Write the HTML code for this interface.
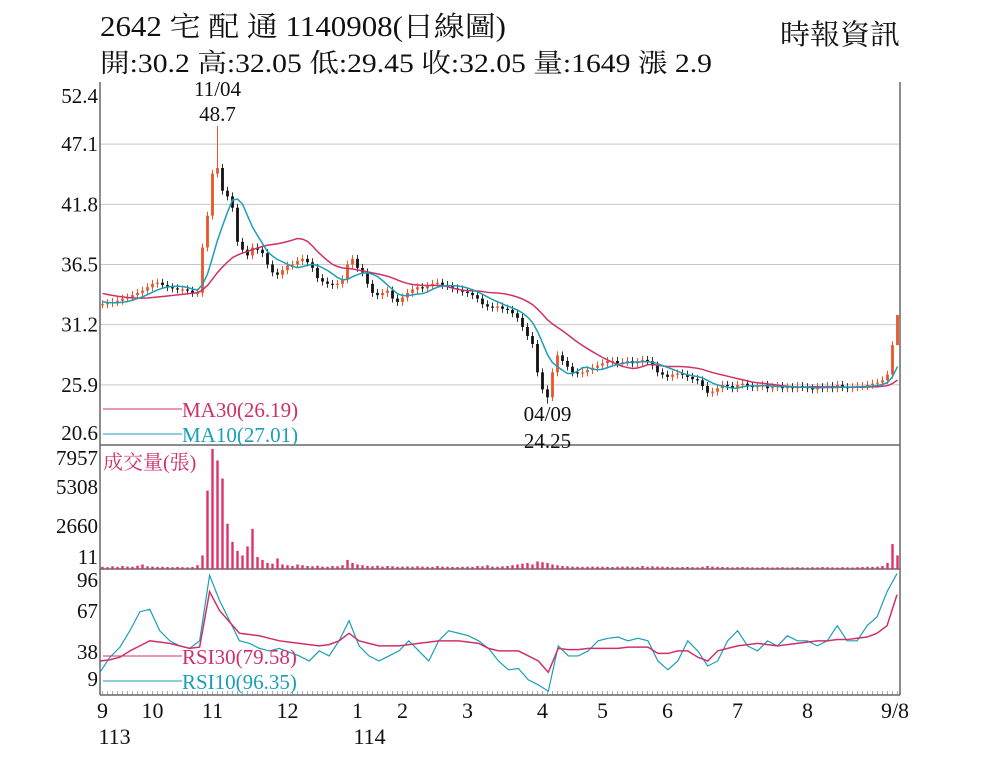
<!DOCTYPE html>
<html><head><meta charset="utf-8">
<style>
html,body{margin:0;padding:0;background:#fff;}
svg{display:block;font-family:"Liberation Serif","Noto Serif CJK SC",serif;}
</style></head>
<body>
<svg id="chart" width="1000" height="771" viewBox="0 0 1000 771" xmlns="http://www.w3.org/2000/svg">
<rect x="0" y="0" width="1000" height="771" fill="#fff"/>
<text x="100" y="36" font-size="28" fill="#111" textLength="406" lengthAdjust="spacingAndGlyphs">2642 宅 配 通 1140908(日線圖)</text>
<text x="100" y="72" font-size="26" fill="#111" textLength="612" lengthAdjust="spacingAndGlyphs">開:30.2 高:32.05 低:29.45 收:32.05 量:1649 漲 2.9</text>
<text x="780" y="44" font-size="28" fill="#111" textLength="120" lengthAdjust="spacingAndGlyphs">時報資訊</text>
<g id="grid"></g>
<g id="marks"></g>
<g id="labels"></g>
</svg>
<script>
// ---- data ----
const priorCloses = [35.6,35.5,35.4,35.4,35.3,35.2,35.2,35.1,35.0,35.0,34.9,34.9,34.8,34.8,34.7,34.6,34.5,34.4,34.3,34.2,34.0,33.9,33.8,33.6,33.5,33.4,33.3,33.2,33.1,33.0];
const closes = [33.0,33.1,33.2,33.3,33.5,33.6,33.8,34.0,34.2,34.5,34.8,34.9,34.7,34.5,34.4,34.3,34.3,34.2,34.0,34.0,
38.0,40.8,44.5,45.0,43.0,42.5,41.5,38.5,37.8,37.3,38.0,37.8,37.5,36.5,35.8,35.6,36.0,36.4,36.5,36.8,
37.0,36.7,36.2,35.3,35.0,34.8,34.7,34.8,35.2,36.5,37.0,36.2,35.8,34.8,34.0,33.8,34.0,34.2,33.5,33.2,
33.6,34.0,34.3,34.5,34.4,34.6,34.8,34.9,34.7,34.6,34.4,34.3,34.1,34.0,33.8,33.5,33.0,32.8,32.7,32.8,
32.6,32.5,32.2,31.8,31.0,30.2,29.5,27.0,25.5,24.8,27.0,28.5,28.0,27.5,27.0,26.9,27.0,27.2,27.4,27.6,
27.8,28.0,28.0,27.8,27.9,28.0,27.8,27.9,28.1,28.0,27.6,27.0,26.8,26.6,26.8,26.9,26.8,26.6,26.4,26.3,
25.8,25.2,25.3,25.6,25.9,25.8,25.6,25.9,26.0,25.8,25.7,25.8,25.9,25.6,25.7,25.8,25.6,25.7,25.6,25.8,
25.7,25.6,25.5,25.7,25.6,25.8,25.6,25.9,25.7,25.6,25.7,25.8,25.8,25.9,26.0,26.1,26.3,26.8,29.4,32.05];
const volumes = [150,120,180,140,200,160,150,220,300,180,160,140,150,130,120,140,120,110,130,250,
900,5200,7957,7200,6000,3000,1800,1200,900,1500,2660,800,600,400,350,700,300,250,200,300,
250,200,180,220,160,150,200,180,250,600,400,300,250,200,180,220,160,200,180,150,
160,170,150,180,160,150,140,200,160,150,140,130,150,160,140,200,180,250,160,150,
180,200,250,300,350,400,300,500,450,400,300,250,200,180,160,150,140,150,160,150,
150,140,130,150,160,170,150,140,200,150,180,160,150,140,130,120,130,140,120,110,
150,200,160,140,130,120,110,120,130,120,110,100,120,110,100,110,120,100,110,120,
110,100,120,110,130,120,110,100,120,110,100,120,130,150,140,160,200,400,1649,900];
const rsi10 = [18,30,38,51,66,68,51,43,39,37,43,95,75,59,43,41,37,35,37,34,31,27,35,31,43,59,39,31,27,31,35,43,35,27,43,51,49,47,43,37,27,20,21,12,8,3,39,31,31,35,43,45,46,43,45,43,27,20,27,43,35,23,27,43,51,39,35,43,39,47,43,43,39,43,55,43,43,55,62,82,96.35];
const rsi30 = [27,28,30,35,39,43,42,41,39,37,38,82,67,58,49,48,47,45,43,42,41,40,39,40,43,49,43,41,39,39,39,40,41,42,43,43,43,42,41,37,35,35,35,31,27,18,37,36,36,37,37,37,37,38,38,38,33,33,35,35,30,27,35,37,39,40,41,40,39,40,41,42,43,43,44,44,45,46,49,55,79.58];
const priceTicks = [52.4,47.1,41.8,36.5,31.2,25.9,20.6];
const volTicks = [7957,5308,2660,11];
const rsiTicks = [96,67,38,9];
const monthLabels = ["9","10","11","12","1","2","3","4","5","6","7","8","9/8"];
const monthIndex = [0,10,22,37,51,60,73,88,100,113,127,141,159];
const yearLabels = ["113","114"];
const yearIndex = [0,51];

// ---- axes ----
const X0=100,X1=900,N=closes.length,STEP=(X1-X0)/N;
const xAt=i=>X0+(i+0.5)*STEP;
const PT=84,PB=445,PMAX=52.4,PMIN=20.6;
const yP=v=>PT+(PMAX-v)/(PMAX-PMIN)*(PB-PT);
const VT=449,VB=569,VMAX=7957;
const yV=v=>VB-v/VMAX*(VB-VT);
const RB=695,RT=569;
const yR=v=>RB-v/100*(RB-RT);
const xR=k=>X0+k*(X1-3-X0)/(rsi10.length-1);

const NS="http://www.w3.org/2000/svg";
function mk(tag,parent){const e=document.createElementNS(NS,tag);document.getElementById(parent).appendChild(e);return e;}

for(const t of priceTicks.slice(1,-1)){
  const l=mk('line','grid');
  
  
  l.setAttribute('x1',X0);l.setAttribute('x2',X1);l.setAttribute('y1',yP(t));l.setAttribute('y2',yP(t));
  l.setAttribute('stroke','#c8c8c8');l.setAttribute('stroke-width','1');
}
[[X0,82,X0,695],[X1,82,X1,695],[X0,445,X1,445],[X0,569,X1,569],[X0,695,X1,695]].forEach(a=>{
  const l=mk('line','grid');
  
  
  l.setAttribute('x1',a[0]);l.setAttribute('y1',a[1]);l.setAttribute('x2',a[2]);l.setAttribute('y2',a[3]);
  l.setAttribute('stroke','#666');l.setAttribute('stroke-width','1.5');
});
for(let i=0;i<N;i++){
  const l=mk('line','grid');
  
  
  l.setAttribute('x1',xAt(i));l.setAttribute('x2',xAt(i));l.setAttribute('y1',695);l.setAttribute('y2',691);
  l.setAttribute('stroke','#777');l.setAttribute('stroke-width','0.6');
}

// moving averages (each candle ~1.55 trading days: MA10 ≈ 7 candles, MA30 ≈ 20 candles)
const all=priorCloses.concat(closes);
function ma(n){const out=[];for(let i=0;i<N;i++){const j=i+priorCloses.length;let s=0;for(let k=j-n+1;k<=j;k++)s+=all[k];out.push(s/n);}return out;}
const ma10=ma(7),ma30=ma(20);

for(let i=0;i<N;i++){
  const o=i===0?priorCloses[priorCloses.length-1]:closes[i-1],c=closes[i];
  let hi=Math.max(o,c)+0.35,lo=Math.min(o,c)-0.35;
  if(i===23)hi=48.7; if(i===89)lo=24.25; if(i===N-1){hi=32.05;lo=29.45;}
  const up=c>=o,col=up?'#e8562a':'#111';
  const w=mk('line','marks');
  
  
  w.setAttribute('x1',xAt(i));w.setAttribute('x2',xAt(i));w.setAttribute('y1',yP(hi));w.setAttribute('y2',yP(lo));
  w.setAttribute('stroke',up?'#e8562a':'#333');w.setAttribute('stroke-width','1');
  const b=mk('rect','marks');
  
  
  const top=yP(Math.max(o,c)),h=Math.max(1.2,yP(Math.min(o,c))-top);
  b.setAttribute('x',xAt(i)-1.4);b.setAttribute('width',2.8);b.setAttribute('y',top);b.setAttribute('height',h);b.setAttribute('fill',col);
}
function poly(vals,xf,yf,color,name,w){
  const p=mk('polyline','marks');
  
  
  p.setAttribute('points',vals.map((v,i)=>xf(i)+','+yf(v)).join(' '));
  p.setAttribute('fill','none');p.setAttribute('stroke',color);p.setAttribute('stroke-width',w||1.5);
}
poly(ma30,xAt,yP,'#d0306a','ma30-line');
poly(ma10,xAt,yP,'#1a9fb8','ma10-line');

for(let i=0;i<N;i++){
  const r=mk('rect','marks');
  
  
  const y=yV(volumes[i]);
  r.setAttribute('x',xAt(i)-1.2);r.setAttribute('width',2.4);r.setAttribute('y',y);r.setAttribute('height',Math.max(0.8,VB-y));r.setAttribute('fill','#e0306a');
}
poly(rsi10,xR,yR,'#1a9fb8','rsi10-line',1.2);
poly(rsi30,xR,yR,'#d0306a','rsi30-line',1.5);

function txt(s,x,y,size,color,anchor,name){
  const t=mk('text','labels');
  
  
  t.setAttribute('x',x);t.setAttribute('y',y);t.setAttribute('font-size',size);t.setAttribute('fill',color);
  if(anchor)t.setAttribute('text-anchor',anchor);
  t.textContent=s;return t;
}
priceTicks.forEach((t,k)=>{let y=yP(t)+7;if(k===0)y=103;if(k===priceTicks.length-1)y=440;txt(String(t),98,y,21,'#111','end','price-tick-label');});
const volY=[465,494,533,564];
volTicks.forEach((t,k)=>txt(String(t),98,volY[k],21,'#111','end','volume-tick-label'));
const rsiY=[587,618,659,686];
rsiTicks.forEach((t,k)=>txt(String(t),98,rsiY[k],21,'#111','end','rsi-tick-label'));
monthLabels.forEach((m,k)=>{const x=Math.min(xAt(monthIndex[k]),895);txt(m,x,718,22,'#111','middle','month-label');});
yearLabels.forEach((m,k)=>txt(m,xAt(yearIndex[k])-4,744,22,'#111','start','year-label'));
txt('11/04',xAt(23),96,21,'#111','middle','high-date-annotation');
txt('48.7',xAt(23),121,21,'#111','middle','high-value-annotation');
txt('04/09',xAt(89),421,21,'#111','middle','low-date-annotation');
txt('24.25',xAt(89),448,21,'#111','middle','low-value-annotation');

function legend(y,color,label,name){
  const l=mk('line','labels');
  
  
  l.setAttribute('x1',103);l.setAttribute('x2',182);l.setAttribute('y1',y);l.setAttribute('y2',y);
  l.setAttribute('stroke',color);l.setAttribute('stroke-width','1');
  txt(label,182,y+8,21,color,'start',name);
}
legend(409,'#d0306a','MA30(26.19)','ma30-legend');
legend(434,'#1a9fb8','MA10(27.01)','ma10-legend');
legend(656,'#d0306a','RSI30(79.58)','rsi30-legend');
legend(681,'#1a9fb8','RSI10(96.35)','rsi10-legend');
txt('成交量(張)',103,469,20,'#d0306a','start','volume-title');
</script>
</body></html>
